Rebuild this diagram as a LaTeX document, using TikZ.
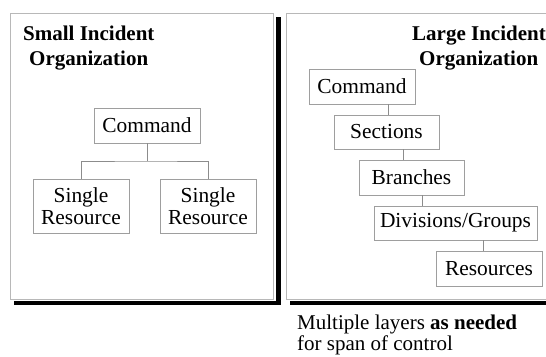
\documentclass[tikz,border=0pt]{standalone}
\usepackage{fontspec}
\setmainfont{Liberation Serif}
\begin{document}
\begin{tikzpicture}[x=1pt,y=-1pt,
  panel/.style={draw=black!28, line width=0.9pt, fill=white},
  shade/.style={fill=black, draw=none},
  orgbox/.style={draw=black!38, line width=0.8pt, fill=white, inner sep=0pt,
    font=\fontsize{21.4}{22}\selectfont, align=center},
  link/.style={draw=black!45, line width=0.8pt},
  heading/.style={font=\fontsize{21}{25}\selectfont\bfseries, inner sep=0pt},
  note/.style={font=\fontsize{21}{19}\selectfont, inner sep=0pt}]
\useasboundingbox (0,0) rectangle (546,356);

% panel frames with their drop shadows
\fill[shade] (276,17) rectangle (281,305);
\fill[shade] (14,301) rectangle (281,305);
\draw[panel] (10,13) rectangle (273,299);
\fill[shade] (290,301) rectangle (560,305);
\draw[panel] (286,13) rectangle (560,299);

% small incident
\node[heading, anchor=base west] (st1) at (23,40) {Small Incident};
\node[heading, anchor=base west] (st2) at (29,65) {Organization};

\node[orgbox, minimum width=106pt, minimum height=35pt] (scmd) at (147,125.5) {Command};
\node[orgbox, minimum width=96pt, minimum height=54pt] (sres1) at (81,206) {Single\\Resource};
\node[orgbox, minimum width=96pt, minimum height=54pt] (sres2) at (208,206) {Single\\Resource};
\coordinate (sjoin) at (147,161);
\draw[link] (scmd.south) -- (sjoin);
\draw[link] (sres1.north) |- (sjoin) -| (sres2.north);

% large incident
\node[heading, anchor=base west] (lt1) at (412,40) {Large Incident};
\node[heading, anchor=base west] (lt2) at (419,65) {Organization};

\node[orgbox, minimum width=106pt, minimum height=35pt] (lcmd) at (362,86.5) {Command};
\node[orgbox, minimum width=105pt, minimum height=34pt] (lsec) at (386.5,132) {Sections};
\node[orgbox, minimum width=105pt, minimum height=35pt] (lbra) at (411.5,177.5) {Branches};
\node[orgbox, minimum width=163pt, minimum height=34pt] (ldiv) at (455.5,223) {Divisions/Groups};
\node[orgbox, minimum width=106pt, minimum height=35pt] (lres) at (489,268.5) {Resources};

\draw[link] ([xshift=26pt]lcmd.south) -- ([xshift=26pt]lcmd.south |- lsec.north);
\draw[link] ([xshift=16.5pt]lsec.south) -- ([xshift=16.5pt]lsec.south |- lbra.north);
\draw[link] ([xshift=10.5pt]lbra.south) -- ([xshift=10.5pt]lbra.south |- ldiv.north);
\draw[link] ([xshift=27.5pt]ldiv.south) -- ([xshift=27.5pt]ldiv.south |- lres.north);

% caption below the large incident panel
\node[note, anchor=base west] (cap1) at (297,329.5) {Multiple layers \textbf{as needed}};
\node[note, anchor=base west] (cap2) at (297,350) {for span of control};
\end{tikzpicture}
\end{document}
